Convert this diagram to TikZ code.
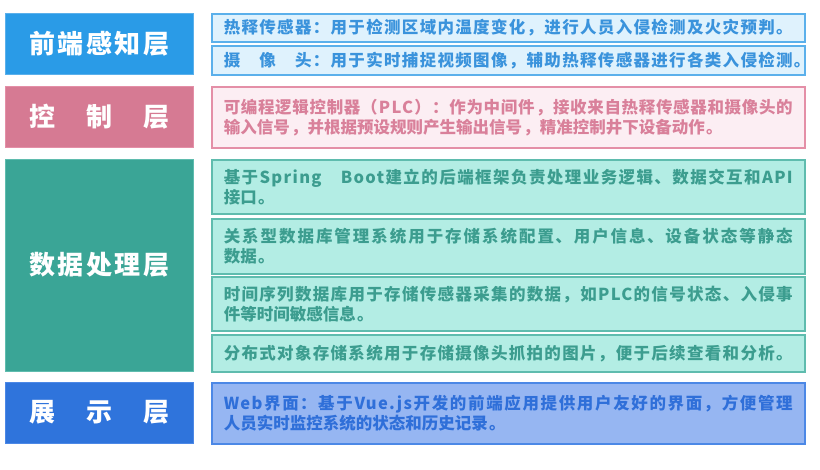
\documentclass[tikz,border=0pt]{standalone}
\usepackage{fontspec}
\newfontfamily\layerfont{Noto Sans CJK SC}[LetterSpace=10]
\newfontfamily\descfont{Noto Sans CJK SC}[LetterSpace=8]
\XeTeXlinebreaklocale "zh"
\XeTeXlinebreakskip=0pt plus 3pt minus 1pt
\definecolor{percBlue}{HTML}{2A9BE7}
\definecolor{percFill}{HTML}{DFF2FD}
\definecolor{percLine}{HTML}{5BB0EB}
\definecolor{percText}{HTML}{3A93DC}
\definecolor{ctrlPink}{HTML}{D67A93}
\definecolor{ctrlFill}{HTML}{FCEEF3}
\definecolor{ctrlLine}{HTML}{E48FA7}
\definecolor{ctrlText}{HTML}{D9809A}
\definecolor{dataTeal}{HTML}{3AA596}
\definecolor{dataFill}{HTML}{B3EDE4}
\definecolor{dataLine}{HTML}{5FBCAE}
\definecolor{dataText}{HTML}{3C9D8F}
\definecolor{showBlue}{HTML}{2F74DC}
\definecolor{showFill}{HTML}{96B6F2}
\definecolor{showLine}{HTML}{4C88E6}
\definecolor{showText}{HTML}{2F6FD9}
\begin{document}
\begin{tikzpicture}[x=1pt,y=-1pt,
    layer/.style={anchor=north west,minimum width=188pt,inner sep=0pt,text=white,
        font=\layerfont\bfseries\fontsize{26}{30}\selectfont},
    desc/.style={anchor=north west,text width=569pt,inner xsep=12pt,inner ysep=0pt,
        align=justify,line width=1.5pt,font=\descfont\bfseries\fontsize{16.5}{20}\selectfont}]
    \useasboundingbox (0,0) rectangle (820,469);
    \node[layer,fill=percBlue,draw=percLine,minimum height=61pt] (front) at (5,13) {前端感知层};
    \node[desc,fill=percFill,draw=percLine,text=percText,minimum height=28pt] (pir) at (211,13) {\mbox{热释传感器：用于检测区域内温度变化，进行人员入侵检测及火灾预判。}};
    \node[desc,fill=percFill,draw=percLine,text=percText,minimum height=29pt] (cam) at (211,45) {\mbox{摄　像　头：用于实时捕捉视频图像，辅助热释传感器进行各类入侵检测。}};
    \node[layer,fill=ctrlPink,draw=ctrlLine,minimum height=61pt] (ctrl) at (5,86) {控　制　层};
    \node[desc,fill=ctrlFill,draw=ctrlLine,text=ctrlText,minimum height=61pt] (plc) at (211,86) {可编程逻辑控制器（PLC）：作为中间件，接收来自热释传感器和摄像头的\linebreak 输入信号，并根据预设规则产生输出信号，精准控制井下设备动作。};
    \node[layer,fill=dataTeal,draw=dataLine,minimum height=212pt] (data) at (5,159) {数据处理层};
    \node[desc,fill=dataFill,draw=dataLine,text=dataText,minimum height=54pt] (boot) at (211,159) {基于Spring　Boot建立的后端框架负责处理业务逻辑、数据交互和API\linebreak 接口。};
    \node[desc,fill=dataFill,draw=dataLine,text=dataText,minimum height=55pt] (rdb) at (211,218) {关系型数据库管理系统用于存储系统配置、用户信息、设备状态等静态\linebreak 数据。};
    \node[desc,fill=dataFill,draw=dataLine,text=dataText,minimum height=54pt] (tsdb) at (211,276) {时间序列数据库用于存储传感器采集的数据，如PLC的信号状态、入侵事\linebreak 件等时间敏感信息。};
    \node[desc,fill=dataFill,draw=dataLine,text=dataText,minimum height=37pt] (oss) at (211,334) {\mbox{分布式对象存储系统用于存储摄像头抓拍的图片，便于后续查看和分析。}};
    \node[layer,fill=showBlue,draw=showLine,minimum height=61pt] (show) at (5,382) {展　示　层};
    \node[desc,fill=showFill,draw=showLine,text=showText,minimum height=61pt] (web) at (211,382) {Web界面：基于Vue.js开发的前端应用提供用户友好的界面，方便管理\linebreak 人员实时监控系统的状态和历史记录。};
\end{tikzpicture}
\end{document}
